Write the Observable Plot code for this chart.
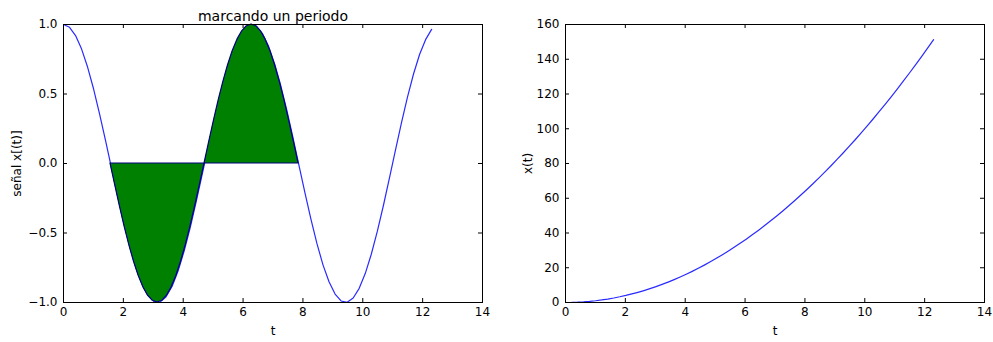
<!DOCTYPE html>
<html><head><meta charset="utf-8">
<script src="https://cdn.jsdelivr.net/npm/d3@7"></script>
<script src="https://cdn.jsdelivr.net/npm/@observablehq/plot@0.6"></script>
<style>
body{margin:0;background:#fff;}
#wrap{position:relative;width:993px;height:342px;overflow:hidden;}
#wrap svg{position:absolute;top:0;}
</style></head><body><div id="wrap"></div>
<script>
// sample times
const t = [0.000,0.202,0.403,0.605,0.807,1.008,1.210,1.411,1.613,1.815,2.016,2.218,2.420,2.621,2.823,3.025,3.226,3.428,3.630,3.831,4.033,4.234,4.436,4.638,4.839,5.041,5.243,5.444,5.646,5.848,6.049,6.251,6.452,6.654,6.856,7.057,7.259,7.461,7.662,7.864,8.066,8.267,8.469,8.670,8.872,9.074,9.275,9.477,9.679,9.880,10.082,10.284,10.485,10.687,10.888,11.090,11.292,11.493,11.695,11.897,12.098,12.300];
// left panel: señal x[(t)]
const signal = [1.000,0.980,0.920,0.823,0.692,0.534,0.352,0.159,-0.042,-0.242,-0.432,-0.603,-0.751,-0.868,-0.951,-0.993,-0.997,-0.959,-0.883,-0.772,-0.628,-0.461,-0.273,-0.075,0.127,0.323,0.505,0.669,0.804,0.907,0.973,0.9995,0.986,0.932,0.841,0.715,0.561,0.384,0.191,-0.010,-0.210,-0.401,-0.577,-0.729,-0.851,-0.939,-0.989,-0.9986,-0.968,-0.898,-0.792,-0.653,-0.489,-0.304,-0.107,0.094,0.292,0.477,0.644,0.784,0.891,0.965];
// shaded period
const tFill = [1.571,1.728,1.885,2.042,2.199,2.356,2.513,2.670,2.827,2.985,3.142,3.299,3.456,3.613,3.770,3.927,4.084,4.241,4.398,4.555,4.712,4.869,5.027,5.184,5.341,5.498,5.655,5.812,5.969,6.126,6.283,6.440,6.597,6.754,6.912,7.069,7.226,7.383,7.540,7.697,7.854];
const signalFill = [0,-0.1564,-0.3090,-0.4540,-0.5878,-0.7071,-0.8090,-0.8910,-0.9511,-0.9877,-1,-0.9877,-0.9511,-0.8910,-0.8090,-0.7071,-0.5878,-0.4540,-0.3090,-0.1564,0,0.1564,0.3090,0.4540,0.5878,0.7071,0.8090,0.8910,0.9511,0.9877,1,0.9877,0.9511,0.8910,0.8090,0.7071,0.5878,0.4540,0.3090,0.1564,0];
// right panel: x(t)
const xt = [0,0.041,0.163,0.366,0.651,1.016,1.464,1.991,2.602,3.294,4.064,4.920,5.856,6.870,7.969,9.151,10.407,11.751,13.177,14.677,16.265,17.927,19.678,21.511,23.416,25.412,27.489,29.637,31.877,34.199,36.590,39.075,41.628,44.276,47.005,49.801,52.693,55.666,58.706,61.843,65.060,68.343,71.724,75.169,78.712,82.337,86.026,89.814,93.683,97.614,101.647,105.761,109.935,114.212,118.549,122.988,127.509,132.089,136.773,141.539,146.362,151.290];

const xTicks = [0,2,4,6,8,10,12,14];
const yTicksLeft = [-1,-0.5,0,0.5,1];
const yTicksRight = [0,20,40,60,80,100,120,140,160];
const titleText = "marcando un periodo";
const xLabel = "t";
const yLabelLeft = "señal x[(t)]";
const yLabelRight = "x(t)";

const leftData = t.map((d,i)=>({t:d, v:signal[i]}));
const fillData = tFill.map((d,i)=>({t:d, v:signalFill[i]}));
const rightData = t.map((d,i)=>({t:d, v:xt[i]}));

const H = 342, MT = 24, MB = 40;
const plotH = H - MT - MB;
const TL = 4;
const lineColor = "#2a2aff";
const style = {fontFamily:"'DejaVu Sans', sans-serif", fontSize:"12px", color:"black", background:"white", overflow:"visible"};

function frameTicks(plotW, xs, ys){
  return [
    Plot.tickX(xs, {x:d=>d, insetTop: plotH - TL, stroke:"black"}),
    Plot.tickX(xs, {x:d=>d, insetBottom: plotH - TL, stroke:"black"}),
    Plot.tickY(ys, {y:d=>d, insetRight: plotW - TL, stroke:"black"}),
    Plot.tickY(ys, {y:d=>d, insetLeft: plotW - TL, stroke:"black"})
  ];
}

const wL = 496, mlL = 63, mrL = 14;
const left = Plot.plot({
  width: wL, height: H, marginLeft: mlL, marginRight: mrL, marginTop: MT, marginBottom: MB,
  style,
  x: {domain:[0,14]},
  y: {domain:[-1,1]},
  marks: [
    Plot.line(leftData, {x:"t", y:"v", stroke:lineColor, strokeWidth:1.2}),
    Plot.areaY(fillData, {x:"t", y:"v", fill:"#008000", stroke:"#000080", strokeWidth:1.2}),
    ...frameTicks(wL - mlL - mrL, xTicks, yTicksLeft),
    Plot.axisX(xTicks, {tickSize:0, tickPadding:5, tickFormat:"d", label:xLabel, labelAnchor:"center", labelOffset:32, labelArrow:"none", fontSize:12}),
    Plot.axisY(yTicksLeft, {tickSize:0, tickPadding:6, tickFormat:".1f", label:yLabelLeft, labelAnchor:"center", labelOffset:51, labelArrow:"none", fontSize:12}),
    Plot.frame({stroke:"black"}),
    Plot.text([titleText], {text:d=>d, frameAnchor:"top", dy:-13, fontSize:14, fill:"black"})
  ]
});
left.style.left = "0px";

const wR = 497, mlR = 69, mrR = 9;
const right = Plot.plot({
  width: wR, height: H, marginLeft: mlR, marginRight: mrR, marginTop: MT, marginBottom: MB,
  style,
  x: {domain:[0,14]},
  y: {domain:[0,160]},
  marks: [
    Plot.line(rightData, {x:"t", y:"v", stroke:lineColor, strokeWidth:1.2}),
    ...frameTicks(wR - mlR - mrR, xTicks, yTicksRight),
    Plot.axisX(xTicks, {tickSize:0, tickPadding:5, tickFormat:"d", label:xLabel, labelAnchor:"center", labelOffset:32, labelArrow:"none", fontSize:12}),
    Plot.axisY(yTicksRight, {tickSize:0, tickPadding:6, tickFormat:"d", label:yLabelRight, labelAnchor:"center", labelOffset:42, labelArrow:"none", fontSize:12}),
    Plot.frame({stroke:"black"})
  ]
});
right.style.left = "496px";

const wrap = document.getElementById("wrap");
wrap.appendChild(left);
wrap.appendChild(right);
</script>
</body></html>
